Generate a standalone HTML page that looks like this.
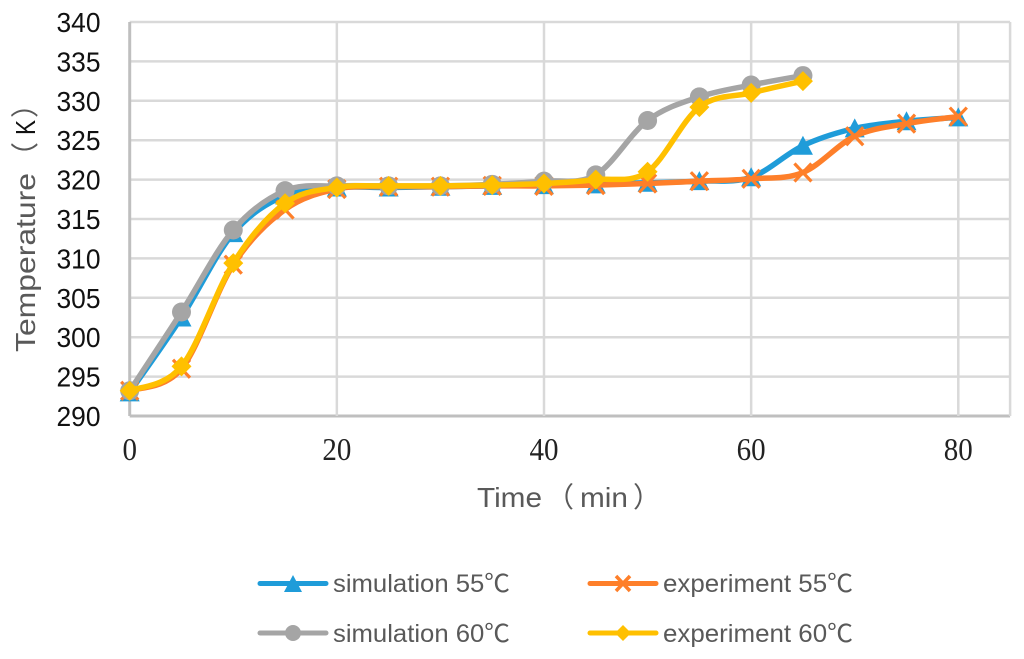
<!DOCTYPE html>
<html lang="en">
<head>
<meta charset="utf-8">
<title>Temperature vs Time</title>
<style>
html,body{margin:0;padding:0;background:#fff;width:1024px;height:659px;overflow:hidden}
svg{display:block}
.ty{font-family:"Liberation Sans",sans-serif;font-size:28px;fill:#111;text-anchor:end}
.tx{font-family:"Liberation Serif",serif;font-size:32px;fill:#222;text-anchor:middle}
.title{font-family:"Liberation Sans","Noto Sans CJK SC",sans-serif;font-size:28px;fill:#595959}
.leg{font-family:"Liberation Sans","Noto Sans CJK SC",sans-serif;font-size:25px;fill:#595959}
</style>
</head>
<body>
<svg id="chart" xmlns="http://www.w3.org/2000/svg" width="1024" height="659" viewBox="0 0 1024 659">
  <rect width="1024" height="659" fill="#fff"/>
  <g id="grid"></g>
  <g id="yticks"></g>
  <g id="xticks"></g>
  <g id="series"></g>
  <g>
    <text class="title" transform="translate(35,352) rotate(-90)" textLength="179" lengthAdjust="spacingAndGlyphs">Temperature</text>
    <text class="title" transform="translate(35,170) rotate(-90)">（</text>
    <text class="title" style="fill:#111" transform="translate(35,135) rotate(-90)" textLength="15" lengthAdjust="spacingAndGlyphs">K</text>
    <text class="title" transform="translate(35,118) rotate(-90)">）</text>
  </g>
  <g>
    <text class="title" x="477" y="507" textLength="65" lengthAdjust="spacingAndGlyphs">Time</text>
    <text class="title" x="546" y="507">（</text>
    <text class="title" x="580" y="507" textLength="48" lengthAdjust="spacingAndGlyphs">min</text>
    <text class="title" x="633" y="507">）</text>
  </g>
  <g>
    <g>
      <line x1="260" y1="583.5" x2="326" y2="583.5" stroke="#1f9cd9" stroke-width="5" stroke-linecap="round"/>
      <path d="M293 575 L302 592 L284 592 Z" fill="#1f9cd9"/>
      <text class="leg" x="333" y="592" textLength="177" lengthAdjust="spacingAndGlyphs">simulation 55℃</text>
    </g>
    <g>
      <line x1="590" y1="583.5" x2="656" y2="583.5" stroke="#fe7f2a" stroke-width="5" stroke-linecap="round"/>
      <path d="M616 576 L630 591 M630 576 L616 591" stroke="#fe7f2a" stroke-width="3.5" fill="none"/>
      <text class="leg" x="663" y="592" textLength="190" lengthAdjust="spacingAndGlyphs">experiment 55℃</text>
    </g>
    <g>
      <line x1="260" y1="633" x2="326" y2="633" stroke="#a5a5a5" stroke-width="5" stroke-linecap="round"/>
      <circle cx="293" cy="633" r="8" fill="#a5a5a5"/>
      <text class="leg" x="333" y="642" textLength="177" lengthAdjust="spacingAndGlyphs">simulation 60℃</text>
    </g>
    <g>
      <line x1="590" y1="633" x2="656" y2="633" stroke="#ffc000" stroke-width="5" stroke-linecap="round"/>
      <path d="M623 625 L631 633 L623 641 L615 633 Z" fill="#ffc000"/>
      <text class="leg" x="663" y="642" textLength="190" lengthAdjust="spacingAndGlyphs">experiment 60℃</text>
    </g>
  </g>
</svg>
<script>
const yTickLabels = [290,295,300,305,310,315,320,325,330,335,340];
const xTickLabels = [0,20,40,60,80];
const times = [0,5,10,15,20,25,30,35,40,45,50,55,60,65,70,75,80];
const simulation55 = [293,302.5,313.2,318,319,319,319.1,319.2,319.3,319.4,319.6,319.8,320.3,324.3,326.5,327.4,327.9];
const experiment55 = [293.2,296,309.2,316.2,318.8,319.1,319.1,319.2,319.2,319.3,319.5,319.8,320.1,320.9,325.5,327.1,328];
const simulation60 = [293.2,303.2,313.6,318.6,319.2,319.2,319.2,319.4,319.8,320.6,327.5,330.5,332,333.2];
const experiment60 = [293.2,296.3,309.4,317,319,319.2,319.2,319.3,319.5,320,321,329.2,331,332.5];

const NS = 'http://www.w3.org/2000/svg';
const xScale = t => 129.7 + (t - 0) * (958.3 - 129.7) / 80;
const yScale = v => 416 - (v - 290) * (416 - 22) / 50;
const xMax = 85;

function mk(tag, parent) {
  const el = document.createElementNS(NS, tag);
  parent.appendChild(el);
  return el;
}

const grid = document.getElementById('grid');
yTickLabels.forEach(v => {
  const l = mk('line', grid);
  
  
  l.setAttribute('x1', xScale(0));
  l.setAttribute('x2', xScale(xMax));
  l.setAttribute('y1', yScale(v));
  l.setAttribute('y2', yScale(v));
  l.setAttribute('stroke', v === 290 ? '#bfbfbf' : '#d9d9d9');
  l.setAttribute('stroke-width', v === 290 ? '3' : '2.5');
});
xTickLabels.concat([xMax]).forEach(t => {
  const l = mk('line', grid);
  
  
  l.setAttribute('x1', xScale(t));
  l.setAttribute('x2', xScale(t));
  l.setAttribute('y1', yScale(340));
  l.setAttribute('y2', yScale(290));
  l.setAttribute('stroke', t === 0 ? '#bfbfbf' : '#d9d9d9');
  l.setAttribute('stroke-width', t === 0 ? '3' : '2.5');
});

const yG = document.getElementById('yticks');
yTickLabels.forEach(v => {
  const tx = mk('text', yG);
  
  
  tx.setAttribute('class', 'ty');
  tx.setAttribute('x', 100.5);
  tx.setAttribute('y', yScale(v) + 10);
  tx.setAttribute('textLength', 44);
  tx.setAttribute('lengthAdjust', 'spacingAndGlyphs');
  tx.textContent = v;
});
const xG = document.getElementById('xticks');
xTickLabels.forEach(t => {
  const tx = mk('text', xG);
  
  
  tx.setAttribute('class', 'tx');
  tx.setAttribute('x', xScale(t));
  tx.setAttribute('y', 460);
  tx.setAttribute('textLength', String(t).length * 14.5);
  tx.setAttribute('lengthAdjust', 'spacingAndGlyphs');
  tx.textContent = t;
});

function smoothPath(pts) {
  let d = 'M' + pts[0][0] + ' ' + pts[0][1];
  for (let i = 0; i < pts.length - 1; i++) {
    const p0 = pts[Math.max(i - 1, 0)], p1 = pts[i], p2 = pts[i + 1], p3 = pts[Math.min(i + 2, pts.length - 1)];
    const c1x = p1[0] + (p2[0] - p0[0]) / 6, c1y = p1[1] + (p2[1] - p0[1]) / 6;
    const c2x = p2[0] - (p3[0] - p1[0]) / 6, c2y = p2[1] - (p3[1] - p1[1]) / 6;
    d += ' C' + c1x + ' ' + c1y + ' ' + c2x + ' ' + c2y + ' ' + p2[0] + ' ' + p2[1];
  }
  return d;
}

function drawMarker(kind, g, x, y, color) {
  let m;
  if (kind === 'triangle') {
    m = mk('path', g);
    m.setAttribute('d', `M${x} ${y - 10} L${x + 10} ${y + 9} L${x - 10} ${y + 9} Z`);
    m.setAttribute('fill', color);
  } else if (kind === 'cross') {
    m = mk('path', g);
    m.setAttribute('d', `M${x - 8.5} ${y - 9} L${x + 8.5} ${y + 9} M${x + 8.5} ${y - 9} L${x - 8.5} ${y + 9}`);
    m.setAttribute('stroke', color);
    m.setAttribute('stroke-width', '3.2');
    m.setAttribute('fill', 'none');
  } else if (kind === 'circle') {
    m = mk('circle', g);
    m.setAttribute('cx', x);
    m.setAttribute('cy', y);
    m.setAttribute('r', '9.5');
    m.setAttribute('fill', color);
  } else {
    m = mk('path', g);
    m.setAttribute('d', `M${x} ${y - 10} L${x + 10} ${y} L${x} ${y + 10} L${x - 10} ${y} Z`);
    m.setAttribute('fill', color);
  }
  
  
}

function drawSeries(name, values, color, kind, width) {
  const g = mk('g', document.getElementById('series'));
  
  
  const pts = values.map((v, i) => [xScale(times[i]), yScale(v)]);
  const p = mk('path', g);
  
  
  p.setAttribute('d', smoothPath(pts));
  p.setAttribute('fill', 'none');
  p.setAttribute('stroke', color);
  p.setAttribute('stroke-width', width);
  p.setAttribute('stroke-linecap', 'round');
  pts.forEach(pt => drawMarker(kind, g, pt[0], pt[1], color));
}

drawSeries('series-simulation-55', simulation55, '#1f9cd9', 'triangle', 5.5);
drawSeries('series-experiment-55', experiment55, '#fe7f2a', 'cross', 5.5);
drawSeries('series-simulation-60', simulation60, '#a5a5a5', 'circle', 5.5);
drawSeries('series-experiment-60', experiment60, '#ffc000', 'diamond', 5.5);
</script>
</body>
</html>
